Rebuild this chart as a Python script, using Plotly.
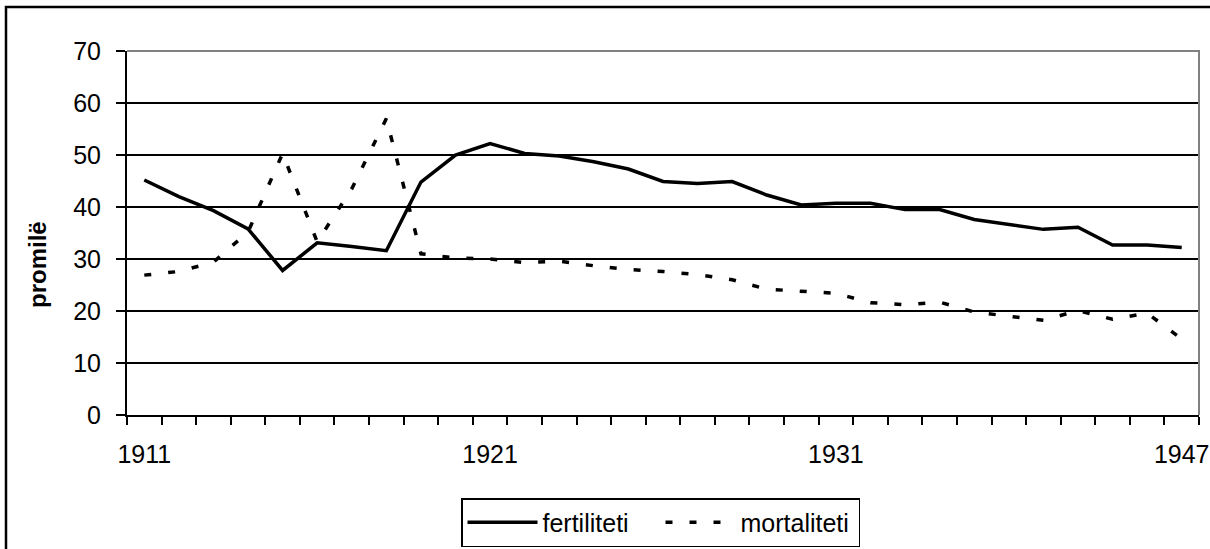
import plotly.graph_objects as go

years = list(range(1911, 1932)) + list(range(1932, 1939)) + [1945, 1946, 1947]
fertiliteti = [45.2, 42.0, 39.3, 35.8, 27.8, 33.1, 32.4, 31.6, 44.8, 50.0,
               52.2, 50.3, 49.8, 48.7, 47.3, 44.9, 44.5, 44.9, 42.3, 40.4,
               40.7, 40.7, 39.5, 39.5, 37.6, 36.6, 35.7, 36.1, 32.7, 32.7, 32.2]
mortaliteti = [26.9, 27.6, 29.4, 35.2, 50.3, 33.3, 43.5, 57.0, 31.0, 30.2,
               30.0, 29.3, 29.6, 28.7, 28.0, 27.6, 27.0, 26.0, 24.2, 23.8,
               23.4, 21.6, 21.2, 21.7, 19.8, 19.0, 18.2, 20.1, 18.4, 19.6, 14.6]
shown_labels = [1911, 1921, 1931, 1947]
y_ticks = [0, 10, 20, 30, 40, 50, 60, 70]

idx = list(range(len(years)))
label_pos = [years.index(y) for y in shown_labels]

FONT = "Liberation Sans, Arial, sans-serif"

fig = go.Figure()
fig.add_trace(go.Scatter(x=idx, y=fertiliteti, mode="lines", name="fertiliteti",
                         line=dict(color="black", width=3.5)))
fig.add_trace(go.Scatter(x=idx, y=mortaliteti, mode="lines", name="mortaliteti",
                         line=dict(color="black", width=3.5, dash="7px,17px")))

L, R, T, B = 127, 11, 51, 134
W, H = 1210, 549
pw = W - L - R
ph = H - T - B

fig.update_layout(
    width=W, height=H,
    margin=dict(l=L, r=R, t=T, b=B, autoexpand=False),
    paper_bgcolor="white", plot_bgcolor="white",
    font=dict(family=FONT, size=25, color="black"),
    showlegend=True,
    legend=dict(orientation="h", x=(660.5 - L) / pw, xanchor="center",
                y=(H - B - 498) / ph, yanchor="top",
                bordercolor="black", borderwidth=1.5, bgcolor="white",
                font=dict(size=25), itemwidth=70, tracegroupgap=0,
                entrywidth=113, entrywidthmode="pixels"),
    xaxis=dict(range=[-0.5, len(years) - 0.5], tickmode="array",
               tickvals=label_pos, ticktext=[str(y) for y in shown_labels],
               ticks="outside", ticklen=0, ticklabelstandoff=16,
               showgrid=False, zeroline=False,
               showline=True, linecolor="black", linewidth=2,
               minor=dict(tickvals=[i - 0.5 for i in range(len(years) + 1)],
                          ticks="outside", ticklen=8, tickwidth=2,
                          tickcolor="black", showgrid=False),
               tickfont=dict(size=25)),
    yaxis=dict(range=[0, 70], tickmode="array", tickvals=y_ticks,
               ticks="outside", ticklen=9, tickwidth=2, tickcolor="black",
               showgrid=True, gridcolor="black", gridwidth=1.5,
               zeroline=False, showline=True, linecolor="black", linewidth=2,
               ticklabelstandoff=10, tickfont=dict(size=25)),
    annotations=[
        dict(text="<b>promilë</b>", xref="paper", yref="paper",
             x=(37 - L) / pw, y=(H - B - 265) / ph, xanchor="center",
             yanchor="middle", textangle=-90, showarrow=False,
             font=dict(size=24, family=FONT, color="black")),
    ],
    shapes=[
        dict(type="path", xref="paper", yref="paper",
             path="M 0 1 L 1 1 L 1 0", line=dict(color="#808080", width=2),
             layer="above"),
        dict(type="rect", xref="paper", yref="paper",
             x0=(6 - L) / pw, x1=1.05, y0=-0.6, y1=(H - B - 7) / ph,
             line=dict(color="black", width=2.5), layer="below"),
    ],
)

fig.write_html("out.html", config={"displayModeBar": False},
               post_script="document.body.style.margin='0px';")
